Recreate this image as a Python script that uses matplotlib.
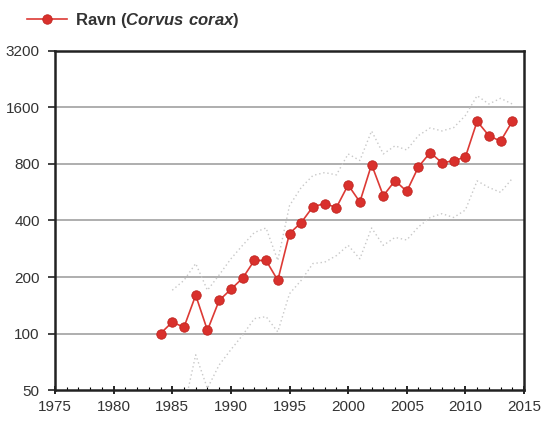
import numpy as np
import matplotlib
matplotlib.use("Agg")
import matplotlib.pyplot as plt
from matplotlib.ticker import FixedLocator, NullFormatter, MultipleLocator

plt.rcParams['font.family'] = ['Liberation Sans', 'DejaVu Sans']
plt.rcParams['mathtext.fontset'] = 'custom'
plt.rcParams['mathtext.rm'] = 'Liberation Sans'
plt.rcParams['mathtext.bf'] = 'Liberation Sans:bold'
plt.rcParams['mathtext.bfit'] = 'Liberation Sans:italic:bold'

# Population index for the raven, with upper/lower confidence limits
years = list(range(1984, 2015))
index = [100, 115, 108, 160, 104, 150, 172, 197, 245, 245, 192, 341, 390, 474,
         492, 469, 619, 502, 795, 542, 652, 572, 773, 921, 812, 832, 871,
         1351, 1133, 1058, 1351]
upper = [np.nan, 170, 192, 236, 170, 205, 250, 295, 345, 365, 245, 480, 600,
         695, 720, 700, 905, 835, 1200, 905, 1000, 950, 1135, 1245, 1200,
         1250, 1450, 1850, 1670, 1790, 1670]
lower = [np.nan, np.nan, 40, 77, 51, 68, 82, 98, 120, 123, 102, 163, 192,
         236, 240, 260, 295, 250, 365, 295, 325, 315, 370, 415, 435, 415,
         455, 650, 600, 565, 670]

y_ticks = [50, 100, 200, 400, 800, 1600, 3200]
x_ticks = [1975, 1980, 1985, 1990, 1995, 2000, 2005, 2010, 2015]

fig = plt.figure(figsize=(5.45, 4.21), dpi=100)
ax = fig.add_axes([0.1009, 0.0736, 0.8606, 0.8053])

ax.set_yscale('log', base=2)
ax.set_ylim(50, 3200)
ax.set_xlim(1975, 2015)

for v in y_ticks[1:-1]:
    ax.axhline(v, color='#a8a8a8', lw=1.3, zorder=1)

band_style = dict(color='#c8c8c8', lw=1.0, ls=(0, (1, 2)), zorder=2)
ax.plot(years, upper, **band_style)
ax.plot(years, lower, **band_style)

line, = ax.plot(years, index, color='#dd3a35', lw=1.2, marker='o',
                markersize=6.8, markerfacecolor='#d9302c',
                markeredgecolor='#c02520', markeredgewidth=0.6, zorder=3)

ax.yaxis.set_major_locator(FixedLocator(y_ticks))
ax.yaxis.set_minor_locator(FixedLocator([]))
ax.set_yticklabels([str(v) for v in y_ticks])
ax.yaxis.set_minor_formatter(NullFormatter())
ax.xaxis.set_major_locator(FixedLocator(x_ticks))
ax.xaxis.set_minor_locator(MultipleLocator(1))

ax.tick_params(axis='y', direction='out', length=5, width=1.2,
               labelsize=11, colors='#222222', labelcolor='#333333', pad=6)
ax.tick_params(axis='x', which='major', direction='inout', length=6, width=1.2,
               labelsize=11, labelcolor='#333333', pad=4)
ax.tick_params(axis='x', which='minor', direction='in', length=2.5, width=0.8)

for s in ax.spines.values():
    s.set_linewidth(1.8)
    s.set_color('#222222')

leg = fig.legend([line], ['Ravn ($\\mathbfit{Corvus\\ corax}$)'],
                 loc='upper left', bbox_to_anchor=(0.022, 1.01),
                 frameon=False, handlelength=2.4, handletextpad=0.5,
                 prop={'weight': 'bold', 'size': 12})
for t in leg.get_texts():
    t.set_color('#333333')

fig.savefig('out.png', dpi=100)
